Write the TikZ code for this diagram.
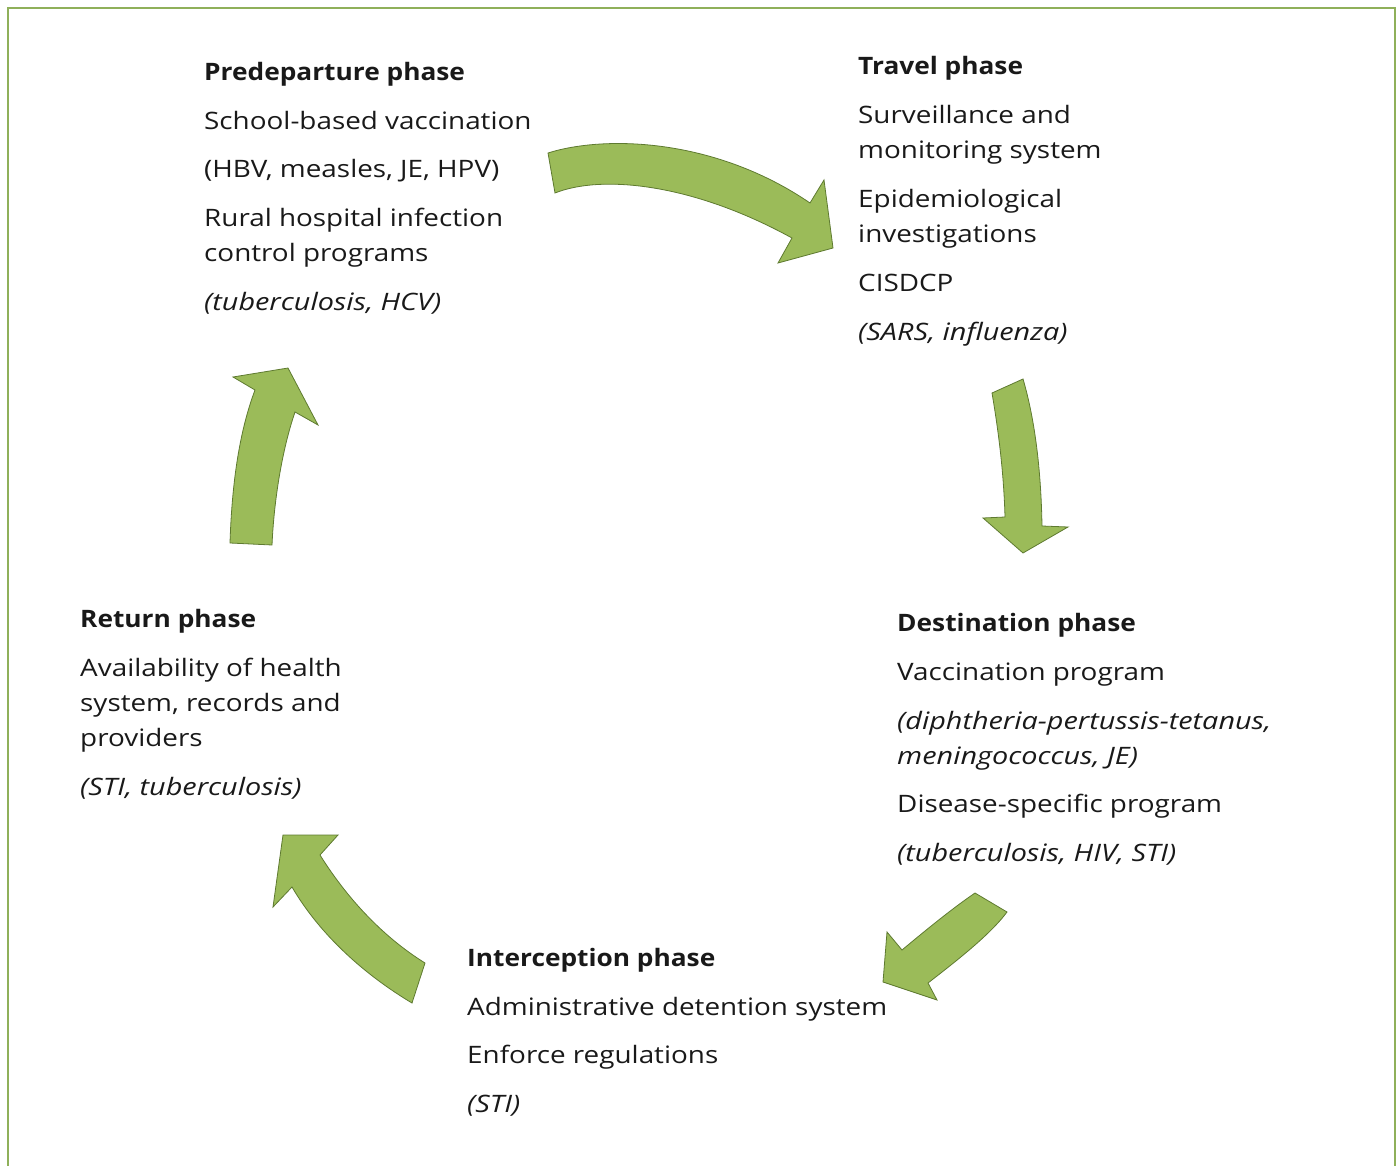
\documentclass[tikz,border=0pt]{standalone}
\usepackage{fontspec}
\setmainfont{Open Sans}
\newfontfamily\regfont{Open Sans}[FakeStretch=1.16]
\newfontfamily\hdrfont{Open Sans}[FakeStretch=1.095]
\newfontfamily\itfont{Open Sans}[FakeStretch=1.2]
\definecolor{olivefill}{HTML}{9BBB59}
\definecolor{oliveedge}{HTML}{5E7A30}
\definecolor{frameg}{HTML}{8FB05A}
\begin{document}
\begin{tikzpicture}[x=1pt,y=-1pt,
  txt/.style={anchor=base west,inner sep=0pt,yshift=-2pt,font=\regfont\fontsize{24}{29}\selectfont,text=black!90},
  hdr/.style={txt,font=\hdrfont\fontsize{24}{29}\selectfont\bfseries},
  itx/.style={txt,font=\itfont\fontsize{24}{29}\selectfont\itshape},
  bigarrow/.style={fill=olivefill,draw=oliveedge,line width=0.8pt,line join=miter}]
\useasboundingbox (0,0) rectangle (1400,1166);
\draw[frameg,line width=2pt] (8,1170) -- (8,8) -- (1395,8) -- (1395,1170);

% arrows
\path[bigarrow] (548,153) .. controls (605,135) and (715,138) .. (810,203) -- (824,180) -- (833,248) -- (778,263) -- (792,238) .. controls (690,182) and (600,175) .. (555,193) -- cycle;
\path[bigarrow] (992,393) .. controls (1000,440) and (1004,480) .. (1005,517) -- (983,518) -- (1023,553) -- (1068,527) -- (1042,526) .. controls (1041,470) and (1035,420) .. (1023,379) -- cycle;
\path[bigarrow] (975,893) .. controls (950,910) and (920,935) .. (902,950) -- (887,932) -- (883,982) -- (937,1000) -- (928,983) .. controls (955,962) and (990,935) .. (1007,912) -- cycle;
\path[bigarrow] (283,835) -- (338,835) -- (320,855) .. controls (345,895) and (380,935) .. (425,963) -- (412,1003) .. controls (365,975) and (320,935) .. (292,887) -- (273,907) -- cycle;
\path[bigarrow] (230,543) .. controls (232,480) and (240,430) .. (255,390) -- (233,377) -- (288,368) -- (318,425) -- (295,412) .. controls (282,450) and (274,500) .. (272,545) -- cycle;

% Predeparture
\node[hdr] (pre1) at (204,79) {Predeparture phase};
\node[txt] (pre2) at (204,128) {School-based vaccination};
\node[txt] (pre3) at (204,176) {(HBV, measles, JE, HPV)};
\node[txt] (pre4) at (204,225) {Rural hospital infection};
\node[txt] (pre5) at (204,260) {control programs};
\node[itx] (pre6) at (204,309) {(tuberculosis, HCV)};
% Travel
\node[hdr] (tra1) at (858,73) {Travel phase};
\node[txt] (tra2) at (858,122) {Surveillance and};
\node[txt] (tra3) at (858,157) {monitoring system};
\node[txt] (tra4) at (858,206) {Epidemiological};
\node[txt] (tra5) at (858,241) {investigations};
\node[txt] (tra6) at (858,290) {CISDCP};
\node[itx] (tra7) at (858,339) {(SARS, influenza)};
% Destination
\node[hdr] (des1) at (897,629) {Destination phase};
\node[txt] (des2) at (897,678) {Vaccination program};
\node[itx] (des3) at (897,727) {(diphtheria-pertussis-tetanus,};
\node[itx] (des4) at (897,762) {meningococcus, JE)};
\node[txt] (des5) at (897,810) {Disease-specific program};
\node[itx] (des6) at (897,859) {(tuberculosis, HIV, STI)};
% Interception
\node[hdr] (int1) at (467,964) {Interception phase};
\node[txt] (int2) at (467,1013) {Administrative detention system};
\node[txt] (int3) at (467,1061) {Enforce regulations};
\node[itx] (int4) at (467,1110) {(STI)};
% Return
\node[hdr] (ret1) at (80,625) {Return phase};
\node[txt] (ret2) at (80,674) {Availability of health};
\node[txt] (ret3) at (80,709) {system, records and};
\node[txt] (ret4) at (80,744) {providers};
\node[itx] (ret5) at (80,793) {(STI, tuberculosis)};
\end{tikzpicture}
\end{document}
